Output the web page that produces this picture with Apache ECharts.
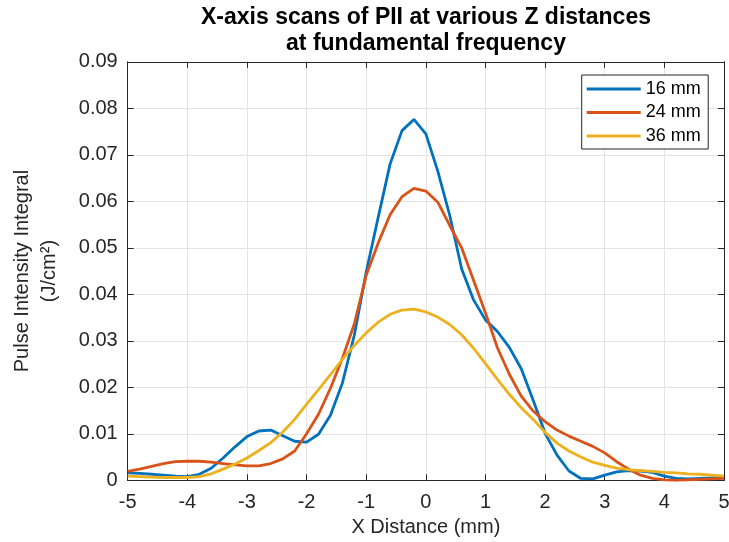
<!DOCTYPE html>
<html>
<head>
<meta charset="utf-8">
<script src="https://cdn.jsdelivr.net/npm/echarts@6/dist/echarts.min.js"></script>
<style>
  html, body { margin: 0; padding: 0; background: #fff; }
  #chart { width: 729px; height: 542px; }
</style>
</head>
<body>
<div id="chart"></div>
<script>
// X positions (mm), sampled every 0.2 mm
const xPositions = [
  -5.0, -4.8, -4.6, -4.4, -4.2, -4.0, -3.8, -3.6, -3.4, -3.2,
  -3.0, -2.8, -2.6, -2.4, -2.2, -2.0, -1.8, -1.6, -1.4, -1.2,
  -1.0, -0.8, -0.6, -0.4, -0.2, 0.0, 0.2, 0.4, 0.6, 0.8,
  1.0, 1.2, 1.4, 1.6, 1.8, 2.0, 2.2, 2.4, 2.6, 2.8,
  3.0, 3.2, 3.4, 3.6, 3.8, 4.0, 4.2, 4.4, 4.6, 4.8, 5.0
];

// PII (J/cm^2) at Z = 16 mm
const pii16 = [
  0.0016, 0.0015, 0.0013, 0.0011, 0.0009, 0.0008, 0.0013, 0.0026, 0.0048, 0.0072,
  0.0094, 0.0106, 0.0108, 0.0096, 0.0084, 0.0082, 0.0099, 0.0140, 0.0209, 0.0312,
  0.0448, 0.0565, 0.0680, 0.0752, 0.0776, 0.0745, 0.0665, 0.0570, 0.0455, 0.0388,
  0.0345, 0.0320, 0.0286, 0.0240, 0.0172, 0.0101, 0.0054, 0.0020, 0.0004, 0.0003,
  0.0011, 0.0018, 0.0021, 0.0020, 0.0017, 0.0009, 0.0004, 0.0003, 0.0004, 0.0005, 0.0006
];

// PII (J/cm^2) at Z = 24 mm
const pii24 = [
  0.0019, 0.0024, 0.0030, 0.0036, 0.0040, 0.0041, 0.0041, 0.0039, 0.0036, 0.0033,
  0.0031, 0.0031, 0.0036, 0.0046, 0.0063, 0.0100, 0.0142, 0.0198, 0.0262, 0.0336,
  0.0441, 0.0510, 0.0571, 0.0610, 0.0628, 0.0622, 0.0598, 0.0548, 0.0500, 0.0430,
  0.0360, 0.0285, 0.0228, 0.0181, 0.0149, 0.0126, 0.0108, 0.0095, 0.0084, 0.0073,
  0.0059, 0.0040, 0.0024, 0.0011, 0.0004, 0.0001, 0.0000, 0.0001, 0.0002, 0.0003, 0.0004
];

// PII (J/cm^2) at Z = 36 mm
const pii36 = [
  0.0009, 0.0008, 0.0007, 0.0006, 0.0006, 0.0006, 0.0008, 0.0014, 0.0024, 0.0035,
  0.0048, 0.0064, 0.0081, 0.0104, 0.0131, 0.0164, 0.0195, 0.0227, 0.0260, 0.0290,
  0.0317, 0.0340, 0.0357, 0.0366, 0.0368, 0.0362, 0.0351, 0.0335, 0.0313, 0.0284,
  0.0251, 0.0217, 0.0185, 0.0156, 0.0131, 0.0103, 0.0080, 0.0063, 0.0050, 0.0039,
  0.0032, 0.0026, 0.0023, 0.0021, 0.0019, 0.0017, 0.0016, 0.0014, 0.0013, 0.0011, 0.0009
];

const seriesNames = ['16 mm', '24 mm', '36 mm'];
const seriesColors = ['#0072BD', '#D95319', '#EDB120'];
const seriesValues = [pii16, pii24, pii36];

const FONT = 'Liberation Sans, Arial, sans-serif';
const AXIS_COLOR = '#262626';

const pairs = (ys) => xPositions.map((x, i) => [x, ys[i]]);

const xBase = {
  type: 'value', min: -5, max: 5, interval: 1,
  axisLine: { show: true, onZero: false, lineStyle: { color: AXIS_COLOR, width: 1 } },
  axisTick: { show: true, inside: true, length: 6, lineStyle: { color: AXIS_COLOR } },
  splitLine: { show: false }
};
const yBase = {
  type: 'value', min: 0, max: 0.09, interval: 0.01,
  axisLine: { show: true, onZero: false, lineStyle: { color: AXIS_COLOR, width: 1 } },
  axisTick: { show: true, inside: true, length: 6, lineStyle: { color: AXIS_COLOR } },
  splitLine: { show: false }
};

const chart = echarts.init(document.getElementById('chart'), null, { renderer: 'canvas' });
chart.setOption({
  backgroundColor: '#ffffff',
  animation: false,
  title: {
    text: 'X-axis scans of PII at various Z distances\nat fundamental frequency',
    left: 426, top: 4, padding: 0, textAlign: 'center',
    textStyle: { fontFamily: FONT, fontSize: 23, fontWeight: 'bold', color: '#000', lineHeight: 26.5 }
  },
  grid: { left: 127.7, right: 5, top: 61.8, bottom: 61.7, containLabel: false, outerBoundsMode: 'none' },
  legend: {
    data: seriesNames,
    orient: 'vertical',
    left: 581.7, top: 75,
    padding: [5, 7.5, 4, 5],
    itemGap: 5.5,
    itemWidth: 54, itemHeight: 3,
    icon: 'rect',
    borderColor: '#262626', borderWidth: 1,
    backgroundColor: '#ffffff',
    textStyle: { fontFamily: FONT, fontSize: 18, color: '#000', lineHeight: 18 }
  },
  xAxis: [
    Object.assign({}, xBase, {
      position: 'bottom',
      name: 'X Distance (mm)', nameLocation: 'middle', nameGap: 35,
      nameTextStyle: { fontFamily: FONT, fontSize: 20, color: '#262626' },
      axisLabel: { fontFamily: FONT, fontSize: 20, color: '#262626', margin: 12,
        formatter: (v) => String(v) },
      splitLine: { show: true, lineStyle: { color: '#e3e3e3', width: 1 } }
    }),
    Object.assign({}, xBase, { position: 'top', axisLabel: { show: false } })
  ],
  yAxis: [
    Object.assign({}, yBase, {
      position: 'left',
      name: 'Pulse Intensity Integral\n(J/cm²)', nameLocation: 'middle', nameGap: 65,
      nameTextStyle: { fontFamily: FONT, fontSize: 20, color: '#262626', lineHeight: 27 },
      axisLabel: { fontFamily: FONT, fontSize: 20, color: '#262626', margin: 10,
        formatter: (v) => (v === 0 ? '0' : v.toFixed(2)) },
      splitLine: { show: true, lineStyle: { color: '#e3e3e3', width: 1 } }
    }),
    Object.assign({}, yBase, { position: 'right', axisLabel: { show: false } })
  ],
  series: seriesNames.map((name, i) => ({
    name,
    type: 'line',
    xAxisIndex: 0, yAxisIndex: 0,
    data: pairs(seriesValues[i]),
    showSymbol: false,
    symbol: 'none',
    color: seriesColors[i],
    lineStyle: { color: seriesColors[i], width: 2.8 },
    z: 3 + i
  }))
});
</script>
</body>
</html>
